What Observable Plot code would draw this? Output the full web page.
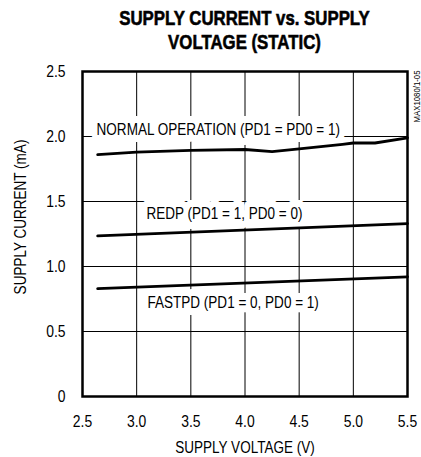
<!DOCTYPE html>
<html>
<head>
<meta charset="utf-8">
<script src="https://cdn.jsdelivr.net/npm/d3@7"></script>
<script src="https://cdn.jsdelivr.net/npm/@observablehq/plot@0.6"></script>
<style>
  html, body { margin: 0; padding: 0; background: #fff; }
  #title {
    box-sizing: border-box;
    width: 421px; height: 60px;
    padding: 6px 14px 0 82px;
    text-align: center;
    font-family: "Liberation Sans", Arial, sans-serif;
    font-weight: bold;
    font-size: 21px;
    line-height: 24px;
    color: #000;
    transform: scaleX(0.8);
    transform-origin: 244.5px 0;
    -webkit-text-stroke: 0.6px #000;
  }
</style>
</head>
<body>
<div id="title">SUPPLY CURRENT vs. SUPPLY<br>VOLTAGE (STATIC)</div>
<div id="chart"></div>
<script>
// ---- data ----
const normalV = [2.64, 3.0, 3.5, 4.0, 4.25, 4.5, 4.9, 5.0, 5.2, 5.5];
const normalI = [1.86, 1.88, 1.893, 1.90, 1.883, 1.905, 1.94, 1.95, 1.95, 1.99];
const redpV = [2.64, 5.5];
const redpI = [1.235, 1.33];
const fastV = [2.64, 5.5];
const fastI = [0.83, 0.92];

const seriesLabels = ["NORMAL OPERATION (PD1 = PD0 = 1)", "REDP (PD1 = 1, PD0 = 0)", "FASTPD (PD1 = 0, PD0 = 1)"];
const labelV = [2.63, 3.09, 3.10];
const labelI = [2.054, 1.408, 0.718];

const xTicks = [2.5, 3.0, 3.5, 4.0, 4.5, 5.0, 5.5];
const yTicks = [0, 0.5, 1.0, 1.5, 2.0, 2.5];
const xLabel = "SUPPLY VOLTAGE (V)";
const yLabel = "SUPPLY CURRENT (mA)";
const figId = "MAX1080/1-05";

// ---- build tables ----
const toRows = (vs, is) => vs.map((v, k) => ({v, i: is[k]}));
const lines = [toRows(normalV, normalI), toRows(redpV, redpI), toRows(fastV, fastI)];
const labels = seriesLabels.map((t, k) => ({t, v: labelV[k], i: labelI[k]}));

const font = '"Liberation Sans", Arial, sans-serif';

const chart = Plot.plot({
  width: 421,
  height: 397,
  marginLeft: 82,
  marginRight: 14,
  marginTop: 11,
  marginBottom: 61,
  style: {fontFamily: font, fontSize: "16.5px", color: "#000", background: "#fff"},
  x: {domain: [2.5, 5.5], ticks: xTicks, label: null},
  y: {domain: [0, 2.5], ticks: yTicks, label: null},
  marks: [
    Plot.gridX(xTicks, {stroke: "#000", strokeOpacity: 1, strokeWidth: 1}),
    Plot.gridY(yTicks, {stroke: "#000", strokeOpacity: 1, strokeWidth: 1}),
    Plot.axisX(xTicks, {tickSize: 0, tickPadding: 18, fontSize: 17, tickFormat: d3.format(".1f")}),
    Plot.axisY(yTicks, {tickSize: 0, tickPadding: 17, fontSize: 17, tickFormat: d => d === 0 ? "0" : d.toFixed(1)}),
    Plot.text(labels, {x: "v", y: "i", text: "t", textAnchor: "start", fontSize: 16.5,
      fill: "#000", stroke: "#fff", strokeWidth: 14, strokeLinejoin: "round", paintOrder: "stroke"}),
    ...lines.map(d => Plot.line(d, {x: "v", y: "i", stroke: "#000", strokeWidth: 2.8, curve: "linear"})),
    Plot.frame({stroke: "#000", strokeWidth: 2.5}),
    Plot.text([xLabel], {frameAnchor: "bottom", dy: 56, textAnchor: "middle", fontSize: 16.5, fill: "#000"}),
    Plot.text([yLabel], {frameAnchor: "left", dx: -62, dy: -17, rotate: -90, textAnchor: "middle", fontSize: 16.5, fill: "#000"}),
    Plot.text([figId], {frameAnchor: "top-right", dx: 6, dy: -1, rotate: -90, textAnchor: "end", fontSize: 9.5, fill: "#000"})
  ]
});
// condensed look (like Helvetica Narrow): squeeze each text along its own baseline
d3.select(chart).selectAll("text").each(function() {
  const t = this.getAttribute("transform") || "";
  this.setAttribute("transform", t + " scale(0.82,1)");
});
document.getElementById("chart").appendChild(chart);
</script>
</body>
</html>
